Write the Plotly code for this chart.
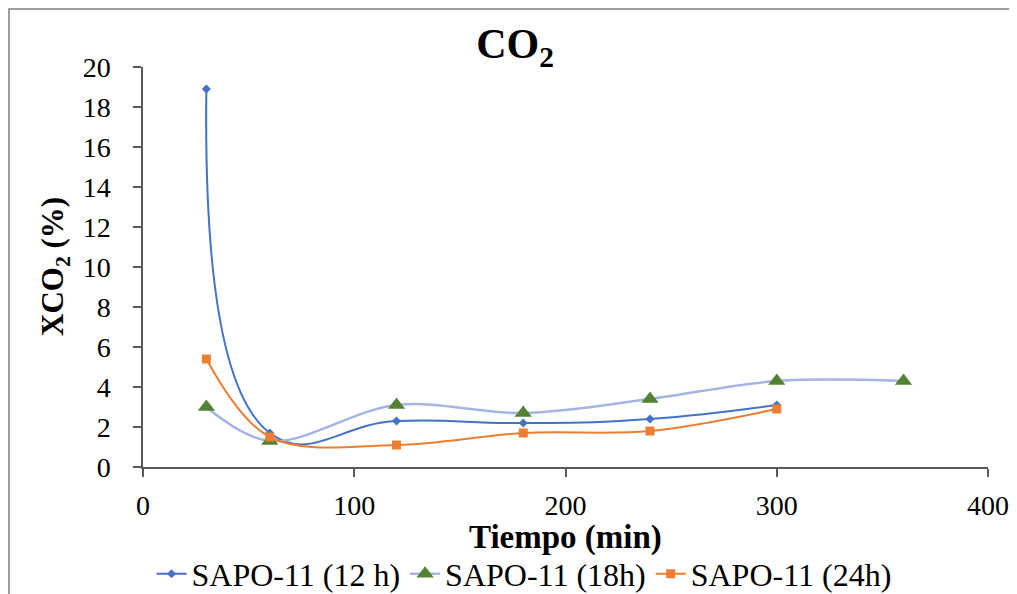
import plotly.graph_objects as go

tiempo_12h = [30, 60, 120, 180, 240, 300]
xco2_12h = [18.9, 1.7, 2.3, 2.2, 2.4, 3.1]

tiempo_18h = [30, 60, 120, 180, 240, 300, 360]
xco2_18h = [3.0, 1.3, 3.1, 2.7, 3.4, 4.3, 4.3]

tiempo_24h = [30, 60, 120, 180, 240, 300]
xco2_24h = [5.4, 1.5, 1.1, 1.7, 1.8, 2.9]

names = ["SAPO-11 (12 h)", "SAPO-11 (18h)", "SAPO-11 (24h)"]
x_title = "<b>Tiempo (min)</b>"
y_title = "<b>XCO<sub>2</sub> (%)</b>"
chart_title = "<b>CO<sub>2</sub></b>"

FONT = "Liberation Serif, Times New Roman, serif"

# page has an 8px body offset; margins compensate for it
ML, MT, PW, PH = 135, 59, 845, 400
W, H = 1017, 594
OFF = 8

fig = go.Figure()
fig.add_trace(go.Scatter(
    x=tiempo_12h, y=xco2_12h, name=names[0], mode="lines+markers",
    line=dict(color="#4472C4", width=2, shape="spline", smoothing=1.3),
    marker=dict(symbol="diamond", size=7, color="#4472C4"),
))
fig.add_trace(go.Scatter(
    x=tiempo_18h, y=xco2_18h, name=names[1], mode="lines+markers",
    line=dict(color="#A4B5E3", width=2.5, shape="spline", smoothing=1.0),
    marker=dict(symbol="triangle-up", size=15, color="#548235"),
))
fig.add_trace(go.Scatter(
    x=tiempo_24h, y=xco2_24h, name=names[2], mode="lines+markers",
    line=dict(color="#ED7D31", width=2, shape="spline", smoothing=1.0),
    marker=dict(symbol="square", size=9, color="#ED7D31"),
))

axis_common = dict(
    showgrid=False, zeroline=False, showline=True, linecolor="#595959", linewidth=1.5,
    ticks="outside", ticklen=8, tickcolor="#595959", tickwidth=1.5,
    tickfont=dict(family=FONT, size=28, color="#000000"),
    automargin=False,
)

def px_x(page_x):
    return (page_x - OFF - ML) / PW

def px_y(page_y):
    return (MT + PH - (page_y - OFF)) / PH

fig.update_layout(
    width=W, height=H,
    paper_bgcolor="white", plot_bgcolor="white",
    margin=dict(l=ML, r=W - ML - PW, t=MT, b=H - MT - PH),
    title=dict(text=chart_title, x=(515 - OFF) / W, xanchor="center",
               y=1 - (43 - OFF) / H, yanchor="middle",
               font=dict(family=FONT, size=42, color="#000000")),
    xaxis=dict(range=[0, 400], tickvals=[0, 100, 200, 300, 400], ticklabelstandoff=5,
               **axis_common),
    yaxis=dict(range=[0, 20], tickvals=list(range(0, 21, 2)), ticklabelstandoff=17,
               **axis_common),
    legend=dict(orientation="h", xref="container", yref="container",
                x=(524 - OFF) / W, xanchor="center",
                y=1 - (574 - OFF) / H, yanchor="middle",
                font=dict(family=FONT, size=32, color="#000000"), itemwidth=30,
                bgcolor="rgba(0,0,0,0)"),
    showlegend=True,
)

fig.add_annotation(text=x_title, xref="paper", yref="paper",
                   x=px_x(565), y=px_y(537), xanchor="center", yanchor="middle",
                   showarrow=False, font=dict(family=FONT, size=33, color="#000000"))
fig.add_annotation(text=y_title, xref="paper", yref="paper",
                   x=px_x(55), y=px_y(267), xanchor="center", yanchor="middle",
                   textangle=-90, showarrow=False,
                   font=dict(family=FONT, size=31, color="#000000"))

fig.add_shape(type="rect", xref="paper", yref="paper",
              x0=(1 - ML) / PW, x1=px_x(1012),
              y0=-(H - MT - PH + 20) / PH, y1=(PH + MT - 1) / PH,
              line=dict(color="#7F7F7F", width=1.5), fillcolor="rgba(0,0,0,0)", layer="below")

fig.write_html("out.html")
